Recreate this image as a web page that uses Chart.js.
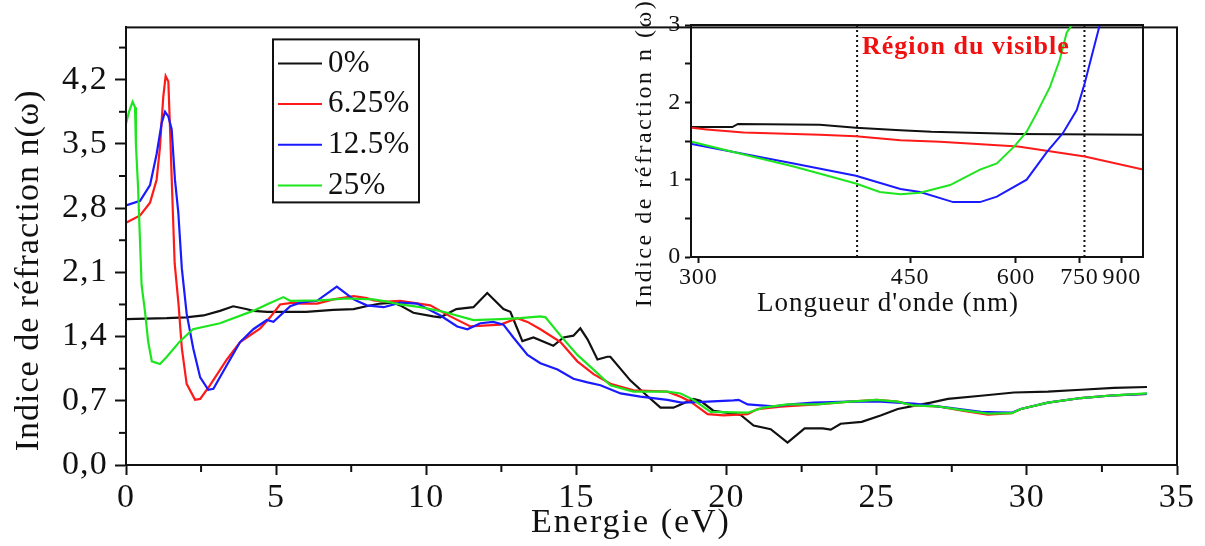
<!DOCTYPE html>
<html>
<head>
<meta charset="utf-8">
<title>Indice de réfraction</title>
<script src="https://cdn.jsdelivr.net/npm/chart.js@4"></script>
<style>
  html, body { margin: 0; padding: 0; background: #fff; }
  #wrap { position: relative; width: 1205px; height: 546px; overflow: hidden; }
  #main { position: absolute; left: 0; top: 0; }
  #inset { position: absolute; left: 625px; top: 0; }
</style>
</head>
<body>
<div id="wrap">
  <canvas id="main" width="1205" height="546"></canvas>
  <canvas id="inset" width="552" height="330"></canvas>
</div>
<script>
// ---- main plot: refractive index vs photon energy (eV) ----
const seriesLabels = ['0%', '6.25%', '12.5%', '25%'];

const energy0 = [0, 1.36, 2.0, 2.58, 3.13, 3.57, 4.0, 4.24, 4.7, 5.36, 6.0, 6.9, 7.58, 8.0, 8.47, 8.91, 9.13, 9.57, 10.23, 10.47, 11.0, 11.57, 12.03, 12.57, 12.8, 13.0, 13.2, 13.57, 14.23, 14.57, 14.9, 15.13, 15.37, 15.7, 16.03, 16.13, 16.8, 17.37, 17.8, 18.23, 18.9, 19.13, 19.57, 20.23, 20.47, 20.9, 21.47, 22.03, 22.6, 23.2, 23.47, 23.8, 24.5, 25.13, 25.7, 26.23, 26.8, 27.37, 28.47, 29.57, 30.7, 31.8, 32.9, 34.0];
const n0 = [1.59, 1.60, 1.61, 1.63, 1.68, 1.73, 1.70, 1.68, 1.67, 1.67, 1.67, 1.69, 1.70, 1.73, 1.76, 1.77, 1.74, 1.66, 1.62, 1.61, 1.70, 1.72, 1.875, 1.70, 1.67, 1.51, 1.35, 1.39, 1.30, 1.39, 1.41, 1.49, 1.37, 1.15, 1.18, 1.18, 0.92, 0.75, 0.625, 0.625, 0.72, 0.70, 0.59, 0.56, 0.545, 0.43, 0.39, 0.245, 0.40, 0.40, 0.385, 0.45, 0.47, 0.54, 0.61, 0.645, 0.68, 0.72, 0.755, 0.79, 0.80, 0.82, 0.84, 0.85];

const energy1 = [0, 0.47, 0.8, 1.02, 1.13, 1.24, 1.32, 1.41, 1.47, 1.52, 1.62, 1.75, 1.86, 2.02, 2.3, 2.47, 2.8, 3.36, 3.8, 4.47, 4.8, 5.13, 5.57, 5.8, 6.36, 6.91, 7.58, 8.02, 8.24, 8.69, 9.13, 10.13, 10.8, 11.47, 12.47, 13.03, 13.37, 13.8, 14.47, 15.03, 15.57, 16.13, 16.9, 18.03, 18.47, 18.8, 19.37, 19.9, 20.7, 21.03, 21.8, 23.0, 24.1, 25.0, 25.7, 26.2, 27.0, 27.9, 28.7, 29.5, 29.8, 30.7, 31.8, 32.9, 34.0];
const n1 = [2.64, 2.72, 2.86, 3.11, 3.46, 4.01, 4.24, 4.18, 3.63, 3.14, 2.2, 1.75, 1.27, 0.885, 0.71, 0.72, 0.87, 1.15, 1.34, 1.49, 1.61, 1.75, 1.77, 1.76, 1.76, 1.805, 1.84, 1.82, 1.795, 1.78, 1.79, 1.74, 1.62, 1.51, 1.53, 1.60, 1.56, 1.48, 1.34, 1.13, 0.99, 0.885, 0.815, 0.80, 0.745, 0.69, 0.555, 0.54, 0.555, 0.61, 0.635, 0.66, 0.69, 0.71, 0.69, 0.65, 0.64, 0.59, 0.55, 0.565, 0.61, 0.68, 0.73, 0.76, 0.775];

const energy2 = [0, 0.47, 0.8, 1.02, 1.19, 1.3, 1.41, 1.52, 1.63, 1.74, 1.86, 2.02, 2.24, 2.47, 2.74, 2.91, 3.36, 3.8, 4.24, 4.69, 4.91, 5.47, 5.8, 6.36, 7.02, 7.58, 8.02, 8.58, 9.13, 9.7, 10.47, 11.03, 11.37, 11.8, 12.23, 12.57, 12.9, 13.37, 13.8, 14.37, 14.9, 15.37, 15.8, 16.47, 17.13, 18.03, 18.5, 19.03, 20.23, 20.4, 20.7, 21.57, 22.13, 22.9, 24.1, 25.13, 26.23, 27.37, 28.47, 29.0, 29.5, 29.8, 30.7, 31.8, 32.9, 34.0];
const n2 = [2.83, 2.88, 3.05, 3.39, 3.73, 3.85, 3.80, 3.66, 3.11, 2.76, 2.14, 1.65, 1.27, 0.955, 0.82, 0.83, 1.09, 1.34, 1.48, 1.58, 1.56, 1.73, 1.77, 1.79, 1.945, 1.805, 1.74, 1.72, 1.77, 1.76, 1.63, 1.51, 1.48, 1.545, 1.56, 1.53, 1.39, 1.20, 1.11, 1.04, 0.94, 0.90, 0.87, 0.78, 0.745, 0.71, 0.68, 0.685, 0.705, 0.71, 0.66, 0.64, 0.66, 0.68, 0.69, 0.69, 0.67, 0.625, 0.58, 0.575, 0.57, 0.61, 0.68, 0.73, 0.76, 0.775];

const energy3 = [0, 0.1, 0.22, 0.3, 0.33, 0.4, 0.47, 0.52, 0.63, 0.74, 0.86, 1.13, 1.36, 1.8, 2.23, 3.13, 4.23, 4.69, 5.24, 5.47, 6.47, 7.36, 8.23, 8.69, 9.13, 9.8, 10.57, 11.57, 12.47, 13.13, 13.8, 13.97, 14.47, 15.03, 15.57, 16.13, 16.9, 18.03, 18.47, 18.9, 19.47, 20.7, 21.23, 22.03, 23.0, 24.1, 25.0, 25.7, 26.2, 27.0, 27.9, 28.7, 29.5, 29.8, 30.7, 31.8, 32.9, 34.0];
const n3 = [3.72, 3.85, 3.96, 3.9, 3.49, 3.04, 2.41, 1.96, 1.68, 1.34, 1.13, 1.10, 1.18, 1.35, 1.48, 1.545, 1.68, 1.75, 1.83, 1.79, 1.795, 1.815, 1.805, 1.78, 1.75, 1.72, 1.67, 1.58, 1.59, 1.60, 1.62, 1.61, 1.41, 1.20, 1.04, 0.87, 0.80, 0.80, 0.78, 0.71, 0.58, 0.57, 0.625, 0.66, 0.66, 0.69, 0.71, 0.69, 0.65, 0.64, 0.595, 0.56, 0.565, 0.61, 0.68, 0.73, 0.76, 0.78];

// ---- inset: visible range, plotted against wavelength (nm) ----
const lambda0 = [297, 317, 320, 371, 399, 440, 474, 604, 1000];
const nv0 = [1.68, 1.68, 1.72, 1.71, 1.67, 1.64, 1.62, 1.59, 1.58];
const lambda1 = [297, 304, 323, 371, 399, 440, 484, 604, 766, 1000];
const nv1 = [1.67, 1.65, 1.61, 1.58, 1.56, 1.51, 1.49, 1.43, 1.30, 1.13];
const lambda2 = [297, 317, 353, 399, 440, 461, 501, 539, 566, 621, 665, 704, 742, 766, 788, 815, 830];
const nv2 = [1.46, 1.36, 1.21, 1.05, 0.88, 0.84, 0.71, 0.71, 0.78, 1.0, 1.36, 1.6, 1.9, 2.25, 2.6, 3.0, 3.3];
const lambda3 = [297, 317, 353, 399, 420, 440, 461, 497, 539, 566, 597, 621, 642, 672, 696, 714, 728, 740];
const nv3 = [1.49, 1.36, 1.17, 0.95, 0.84, 0.81, 0.83, 0.93, 1.13, 1.21, 1.43, 1.62, 1.86, 2.2, 2.55, 2.9, 3.0, 3.3];

const wavelengthTicks = [300, 450, 600, 750, 900];
const visibleBounds = [400, 765];

const mainYTicks = [0, 0.7, 1.4, 2.1, 2.8, 3.5, 4.2];
const mainXTicks = [0, 5, 10, 15, 20, 25, 30, 35];

const HC = 1239.84; // eV·nm
const colors = ['#111111', '#ff1a1a', '#1a1aff', '#1ee61e'];
const SERIF = "'Liberation Serif', 'Times New Roman', serif";
const INK = '#111111';

const pts = (xs, ys) => xs.map((x, i) => ({ x, y: ys[i] }));
const ptsNm = (ls, ys) => ls.map((l, i) => ({ x: HC / l, y: ys[i] }));

function drawCaption(ctx, text, x, y, font, color, spacing, angle, align) {
  ctx.save();
  ctx.translate(x, y);
  if (angle) ctx.rotate(angle);
  ctx.font = font;
  ctx.fillStyle = color;
  ctx.textAlign = align || 'center';
  ctx.textBaseline = 'middle';
  ctx.letterSpacing = spacing + 'px';
  ctx.fillText(text, 0, 0);
  ctx.restore();
}

// letter spacing for the library-drawn tick labels
const textSpacing = {
  id: 'textSpacing',
  beforeLayout(chart, args, opts) { chart.ctx.letterSpacing = (opts.px || 0) + 'px'; },
  beforeDraw(chart, args, opts) { chart.ctx.letterSpacing = (opts.px || 0) + 'px'; }
};

// closed frame round the plotting area
const frame = {
  id: 'frame',
  afterDraw(chart, args, opts) {
    const { ctx, chartArea: a } = chart;
    ctx.save();
    ctx.strokeStyle = opts.color;
    ctx.lineWidth = opts.width;
    ctx.strokeRect(a.left, a.top, a.right - a.left, a.bottom - a.top);
    ctx.restore();
  }
};

// short unlabeled ticks halfway between the labelled ones
const minorTicks = {
  id: 'minorTicks',
  afterDraw(chart, args, opts) {
    const { ctx, chartArea: a, scales } = chart;
    ctx.save();
    ctx.strokeStyle = opts.color;
    ctx.lineWidth = 2;
    (opts.x || []).forEach(v => {
      const px = scales.x.getPixelForValue(v);
      ctx.beginPath(); ctx.moveTo(px, a.bottom); ctx.lineTo(px, a.bottom + opts.len); ctx.stroke();
    });
    (opts.y || []).forEach(v => {
      const py = scales.y.getPixelForValue(v);
      ctx.beginPath(); ctx.moveTo(a.left, py); ctx.lineTo(a.left - opts.len, py); ctx.stroke();
    });
    ctx.restore();
  }
};

// boxed legend in the upper left of the plot
const boxedLegend = {
  id: 'boxedLegend',
  afterDraw(chart) {
    const { ctx, chartArea: a } = chart;
    const left = a.left + 147, top = a.top + 12, w = 146, h = 163;
    ctx.save();
    ctx.strokeStyle = INK;
    ctx.lineWidth = 2;
    ctx.strokeRect(left, top, w, h);
    chart.data.datasets.forEach((ds, i) => {
      const y = top + 24 + i * 40.7;
      ctx.strokeStyle = ds.borderColor;
      ctx.lineWidth = 2;
      ctx.beginPath(); ctx.moveTo(left + 5, y); ctx.lineTo(left + 49, y); ctx.stroke();
      drawCaption(ctx, ds.label, left + 55, y, '31px ' + SERIF, INK, 0.3, 0, 'left');
    });
    ctx.restore();
  }
};

// axis captions for the main plot
const mainCaptions = {
  id: 'mainCaptions',
  afterDraw(chart) {
    const { ctx, chartArea: a } = chart;
    drawCaption(ctx, 'Energie (eV)', a.left + 505, a.bottom + 58, '34px ' + SERIF, INK, 2, 0);
    drawCaption(ctx, 'Indice de réfraction n(ω)', 29, a.top + 243, '34px ' + SERIF, INK, 1, -Math.PI / 2);
  }
};

const mainDatasets = [
  { label: seriesLabels[0], data: pts(energy0, n0), borderColor: colors[0], order: 3 },
  { label: seriesLabels[1], data: pts(energy1, n1), borderColor: colors[1], order: 2 },
  { label: seriesLabels[2], data: pts(energy2, n2), borderColor: colors[2], order: 1 },
  { label: seriesLabels[3], data: pts(energy3, n3), borderColor: colors[3], order: 0 }
];

const axisLine = { width: 2, color: INK };

new Chart(document.getElementById('main'), {
  type: 'line',
  data: { datasets: mainDatasets },
  options: {
    responsive: false,
    animation: false,
    devicePixelRatio: 1,
    layout: { padding: { left: 0, top: 7, right: 28, bottom: 0 } },
    elements: { point: { radius: 0 }, line: { borderWidth: 2.2, tension: 0 } },
    plugins: {
      legend: { display: false },
      tooltip: { enabled: false },
      textSpacing: { px: 1.2 },
      frame: { color: INK, width: 2 },
      minorTicks: {
        color: INK, len: 7,
        x: mainXTicks.slice(0, -1).map(v => v + 2.5),
        y: mainYTicks.map(v => v + 0.35)
      }
    },
    scales: {
      x: {
        type: 'linear', min: 0, max: 35,
        afterBuildTicks: s => { s.ticks = mainXTicks.map(v => ({ value: v })); },
        ticks: { font: { family: SERIF, size: 34 }, color: INK, padding: 3, maxRotation: 0, autoSkip: false },
        grid: { drawOnChartArea: false, tickLength: 10, tickWidth: 2, tickColor: INK },
        border: axisLine,
        afterFit: s => { s.height = 81; }
      },
      y: {
        type: 'linear', min: 0, max: 4.77,
        afterBuildTicks: s => { s.ticks = mainYTicks.map(v => ({ value: v })); },
        ticks: { font: { family: SERIF, size: 34 }, color: INK, padding: 7,
                 callback: v => v.toFixed(1).replace('.', ',') },
        grid: { drawOnChartArea: false, tickLength: 11, tickWidth: 2, tickColor: INK },
        border: axisLine,
        afterFit: s => { s.width = 126; }
      }
    }
  },
  plugins: [textSpacing, frame, minorTicks, boxedLegend, mainCaptions]
});

// ---- inset ----
const insetCaptions = {
  id: 'insetCaptions',
  afterDraw(chart) {
    const { ctx, chartArea: a } = chart;
    drawCaption(ctx, "Longueur d'onde (nm)", a.left + 197, a.bottom + 47, '27px ' + SERIF, INK, 1, 0);
    drawCaption(ctx, 'Indice de réfraction n (ω)', 20, a.top + 128, '24px ' + SERIF, INK, 2.5, -Math.PI / 2);
    drawCaption(ctx, 'Région du visible', a.left + 171, a.top + 22, 'bold 26px ' + SERIF, '#f01010', 1, 0, 'left');
  }
};

const boundDatasets = visibleBounds.map(l => ({
  label: '', data: [{ x: HC / l, y: 0 }, { x: HC / l, y: 3 }],
  borderColor: '#111', borderWidth: 2, borderDash: [2, 3], order: 5
}));

new Chart(document.getElementById('inset'), {
  type: 'line',
  data: {
    datasets: [
      { label: seriesLabels[0], data: ptsNm(lambda0, nv0), borderColor: colors[0], order: 3 },
      { label: seriesLabels[1], data: ptsNm(lambda1, nv1), borderColor: colors[1], order: 2 },
      { label: seriesLabels[2], data: ptsNm(lambda2, nv2), borderColor: colors[2], order: 1 },
      { label: seriesLabels[3], data: ptsNm(lambda3, nv3), borderColor: colors[3], order: 0 },
      ...boundDatasets
    ]
  },
  options: {
    responsive: false,
    animation: false,
    devicePixelRatio: 1,
    layout: { padding: { left: 0, top: 25, right: 34, bottom: 0 } },
    elements: { point: { radius: 0 }, line: { borderWidth: 2, tension: 0 } },
    plugins: {
      legend: { display: false },
      tooltip: { enabled: false },
      textSpacing: { px: 0.8 },
      frame: { color: INK, width: 2 }
    },
    scales: {
      x: {
        type: 'linear', reverse: true, min: HC / 1000, max: 4.18,
        afterBuildTicks: s => { s.ticks = wavelengthTicks.map(l => ({ value: HC / l })); },
        ticks: { font: { family: SERIF, size: 24 }, color: INK, padding: 0, maxRotation: 0, autoSkip: false,
                 callback: v => String(Math.round(HC / v)) },
        grid: { drawOnChartArea: false, tickLength: 6, tickWidth: 2, tickColor: INK },
        border: axisLine,
        afterFit: s => { s.height = 73; }
      },
      y: {
        type: 'linear', min: 0, max: 3,
        ticks: { stepSize: 0.5, font: { family: SERIF, size: 24 }, color: INK, padding: 4,
                 callback: v => Number.isInteger(v) ? String(v) : '' },
        grid: { drawOnChartArea: false, tickLength: 6, tickWidth: 2, tickColor: INK },
        border: axisLine,
        afterFit: s => { s.width = 66; }
      }
    }
  },
  plugins: [textSpacing, frame, insetCaptions]
});
</script>
</body>
</html>
